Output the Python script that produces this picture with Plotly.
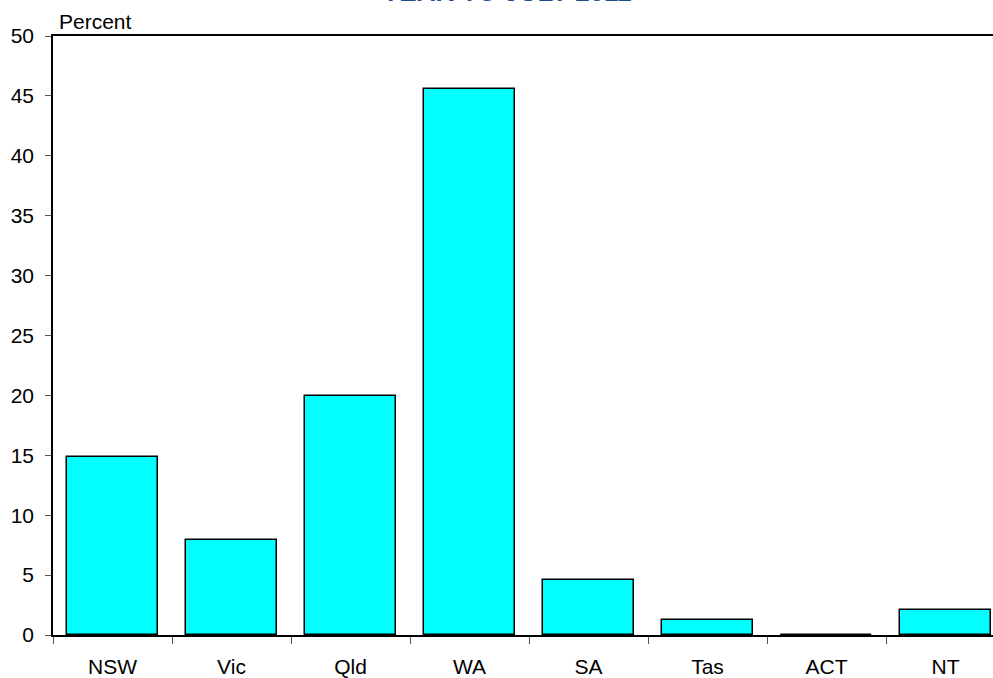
import plotly.graph_objects as go

categories = ["NSW", "Vic", "Qld", "WA", "SA", "Tas", "ACT", "NT"]
values = [14.9, 7.9, 19.95, 45.6, 4.6, 1.25, 0.0, 2.1]
y_ticks = [0, 5, 10, 15, 20, 25, 30, 35, 40, 45, 50]
title_text = "YEAR TO JULY 2011"
y_label = "Percent"

FONT = "Arial, Liberation Sans, sans-serif"

fig = go.Figure(
    go.Bar(
        x=categories,
        y=values,
        width=0.765,
        marker=dict(color="#00FFFF", line=dict(color="#000000", width=1.5)),
    )
)

fig.update_layout(
    width=993,
    height=678,
    margin=dict(l=53, r=0, t=36, b=43),
    paper_bgcolor="white",
    plot_bgcolor="white",
    showlegend=False,
    font=dict(family=FONT, size=21, color="black"),
    bargap=0,
)

fig.update_xaxes(
    range=[-0.5, 7.399],
    showline=True,
    linecolor="black",
    linewidth=1.5,
    mirror=True,
    ticks="outside",
    tickson="boundaries",
    ticklen=7,
    tickcolor="#555555",
    tickwidth=1,
    showgrid=False,
    tickfont=dict(family=FONT, size=21),
    ticklabelstandoff=12,
)

fig.update_yaxes(
    range=[0, 50],
    tickvals=y_ticks,
    showline=True,
    linecolor="black",
    linewidth=1.5,
    ticks="outside",
    ticklen=6,
    tickcolor="#555555",
    tickwidth=1,
    showgrid=False,
    zeroline=False,
    tickfont=dict(family=FONT, size=21),
    ticklabelstandoff=7,
)

fig.add_annotation(
    text=y_label,
    xref="paper", yref="paper",
    x=0, y=1,
    xanchor="left", yanchor="bottom",
    xshift=4, yshift=1,
    showarrow=False,
    font=dict(family=FONT, size=21, color="black"),
)

fig.add_annotation(
    text="<b>" + title_text + "</b>",
    xref="paper", yref="paper",
    x=0.483, y=1,
    xanchor="center", yanchor="bottom",
    yshift=27,
    showarrow=False,
    font=dict(family=FONT, size=26, color="#1F4E8C"),
)

fig.write_html("out.html")
